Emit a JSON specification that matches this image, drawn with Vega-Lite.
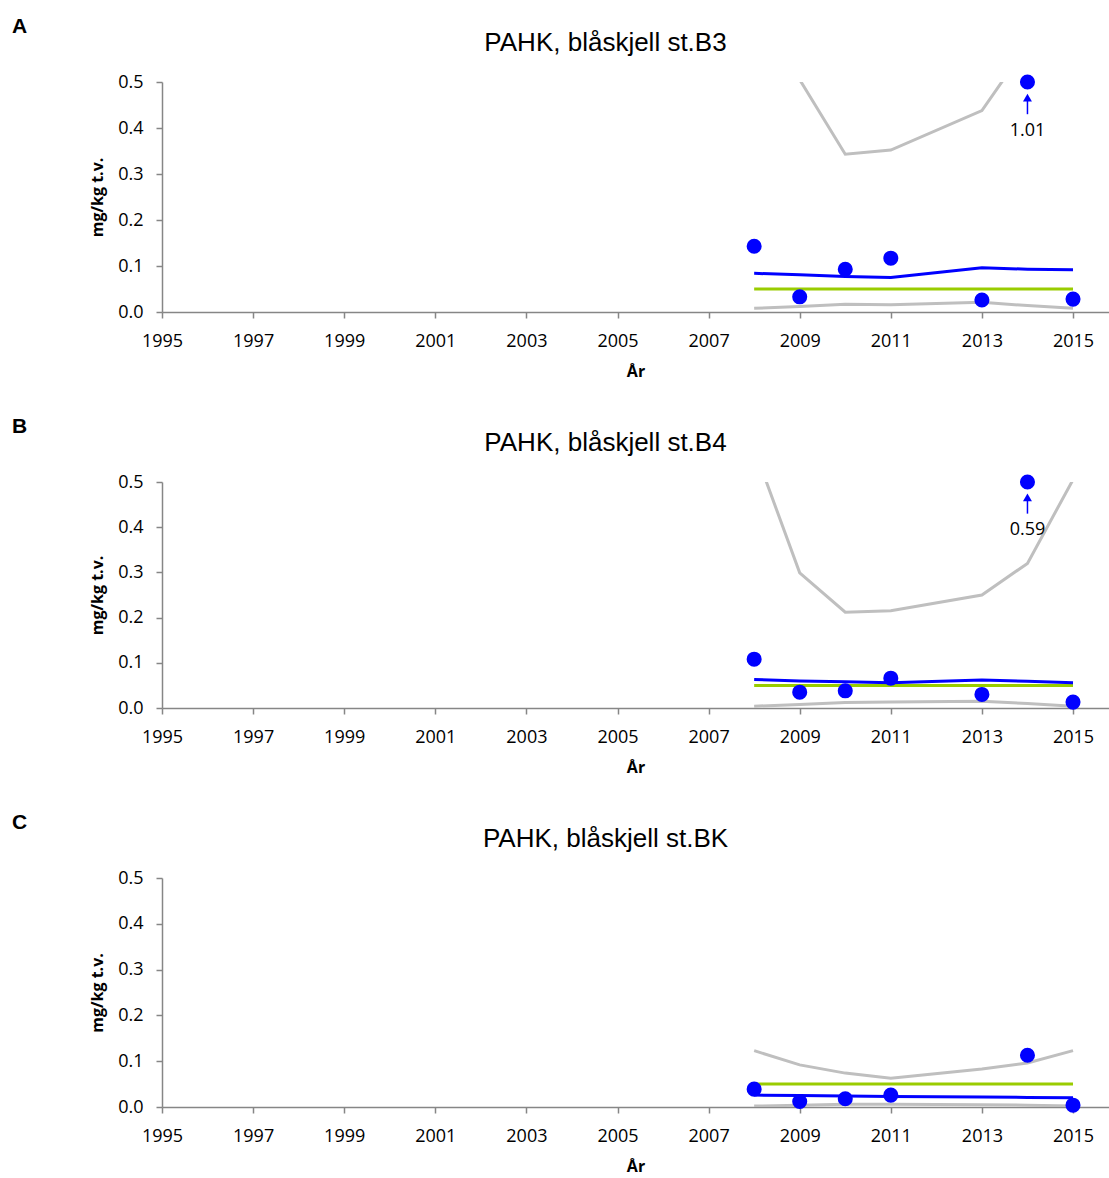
{
  "$schema": "https://vega.github.io/schema/vega-lite/v6.json",
  "padding": {"left": 12, "top": 16, "right": 0, "bottom": 4},
  "background": "white",
  "config": {
    "view": {"stroke": null},
    "title": {"font": "Liberation Sans", "fontSize": 26, "fontWeight": "normal", "color": "#000000"},
    "axis": {
      "domainColor": "#868686", "tickColor": "#868686", "domainWidth": 1.5, "tickWidth": 1.5, "tickSize": 6,
      "labelFont": "Open Sans", "labelFontSize": 18, "labelColor": "#000000", "labelFlush": false,
      "titleFont": "Open Sans", "titleFontSize": 16, "titleFontWeight": "bold", "titleColor": "#000000",
      "grid": false
    }
  },
  "datasets": {
    "A": [
      {"year": 2008, "conc": 0.143, "trend": 0.084, "upper": 1.2, "lower": 0.008, "klasse": 0.05, "label": null},
      {"year": 2009, "conc": 0.033, "trend": 0.081, "upper": 0.505, "lower": 0.012, "klasse": 0.05, "label": null},
      {"year": 2010, "conc": 0.093, "trend": 0.077, "upper": 0.343, "lower": 0.017, "klasse": 0.05, "label": null},
      {"year": 2011, "conc": 0.117, "trend": 0.075, "upper": 0.352, "lower": 0.016, "klasse": 0.05, "label": null},
      {"year": 2013, "conc": 0.026, "trend": 0.096, "upper": 0.438, "lower": 0.021, "klasse": 0.05, "label": null},
      {"year": 2014, "conc": 1.01, "trend": 0.093, "upper": 0.58, "lower": 0.014, "klasse": 0.05, "label": "1.01"},
      {"year": 2015, "conc": 0.028, "trend": 0.092, "upper": 1.0, "lower": 0.008, "klasse": 0.05, "label": null}
    ],
    "B": [
      {"year": 2008, "conc": 0.108, "trend": 0.063, "upper": 0.574, "lower": 0.004, "klasse": 0.05, "label": null},
      {"year": 2009, "conc": 0.035, "trend": 0.06, "upper": 0.299, "lower": 0.008, "klasse": 0.05, "label": null},
      {"year": 2010, "conc": 0.038, "trend": 0.058, "upper": 0.212, "lower": 0.012, "klasse": 0.05, "label": null},
      {"year": 2011, "conc": 0.066, "trend": 0.056, "upper": 0.215, "lower": 0.013, "klasse": 0.05, "label": null},
      {"year": 2013, "conc": 0.03, "trend": 0.062, "upper": 0.25, "lower": 0.015, "klasse": 0.05, "label": null},
      {"year": 2014, "conc": 0.59, "trend": 0.059, "upper": 0.32, "lower": 0.01, "klasse": 0.05, "label": "0.59"},
      {"year": 2015, "conc": 0.013, "trend": 0.056, "upper": 0.505, "lower": 0.004, "klasse": 0.05, "label": null}
    ],
    "C": [
      {"year": 2008, "conc": 0.039, "trend": 0.026, "upper": 0.123, "lower": 0.002, "klasse": 0.05, "label": null},
      {"year": 2009, "conc": 0.012, "trend": 0.025, "upper": 0.092, "lower": 0.004, "klasse": 0.05, "label": null},
      {"year": 2010, "conc": 0.018, "trend": 0.024, "upper": 0.074, "lower": 0.006, "klasse": 0.05, "label": null},
      {"year": 2011, "conc": 0.026, "trend": 0.023, "upper": 0.063, "lower": 0.006, "klasse": 0.05, "label": null},
      {"year": 2013, "conc": null, "trend": 0.022, "upper": 0.083, "lower": 0.005, "klasse": 0.05, "label": null},
      {"year": 2014, "conc": 0.113, "trend": 0.021, "upper": 0.096, "lower": 0.004, "klasse": 0.05, "label": null},
      {"year": 2015, "conc": 0.004, "trend": 0.02, "upper": 0.123, "lower": 0.002, "klasse": 0.05, "label": null}
    ]
  },
  "vconcat": [
    {
      "title": {"text": "A", "anchor": "start", "frame": "group", "dx": -150, "dy": 11, "fontSize": 21, "fontWeight": "bold"},
      "vconcat": [
        {
          "data": {"name": "A"},
          "width": 947, "height": 230,
          "title": {"text": "PAHK, blåskjell st.B3", "dx": -30, "offset": 17},
          "layer": [
            {"mark": {"type": "line", "color": "#BFBFBF", "strokeWidth": 3, "clip": true},
             "encoding": {
               "x": {"field": "year", "type": "quantitative", "scale": {"domain": [1995, 2015.79], "nice": false, "zero": false},
                     "axis": {"values": [1995, 1997, 1999, 2001, 2003, 2005, 2007, 2009, 2011, 2013, 2015], "format": "d", "title": "År", "labelPadding": 14, "titlePadding": 13}},
               "y": {"field": "upper", "type": "quantitative", "scale": {"domain": [0, 0.5], "nice": false},
                     "axis": {"values": [0, 0.1, 0.2, 0.3, 0.4, 0.5], "format": ".1f", "title": "mg/kg t.v.", "labelPadding": 13, "titlePadding": 12}}}},
            {"mark": {"type": "line", "color": "#BFBFBF", "strokeWidth": 3, "clip": true},
             "encoding": {"x": {"field": "year", "type": "quantitative"}, "y": {"field": "lower", "type": "quantitative", "scale": {"domain": [0, 0.5], "nice": false}, "axis": null}}},
            {"mark": {"type": "line", "color": "#99CC00", "strokeWidth": 3, "clip": true},
             "encoding": {"x": {"field": "year", "type": "quantitative"}, "y": {"field": "klasse", "type": "quantitative", "scale": {"domain": [0, 0.5], "nice": false}, "axis": null}}},
            {"mark": {"type": "line", "color": "#0000FF", "strokeWidth": 3, "clip": true},
             "encoding": {"x": {"field": "year", "type": "quantitative"}, "y": {"field": "trend", "type": "quantitative", "scale": {"domain": [0, 0.5], "nice": false}, "axis": null}}},
            {"mark": {"type": "circle", "color": "#0000FF", "size": 227, "opacity": 1},
             "encoding": {"x": {"field": "year", "type": "quantitative"}, "y": {"field": "conc", "type": "quantitative", "scale": {"domain": [0, 0.5], "nice": false, "clamp": true}, "axis": null}}},
            {"transform": [{"filter": "datum.label != null"}],
             "mark": {"type": "rule", "color": "#0000FF", "strokeWidth": 1.5},
             "encoding": {"x": {"field": "year", "type": "quantitative"}, "y": {"datum": 0.43, "type": "quantitative", "scale": {"domain": [0, 0.5], "nice": false}, "axis": null}, "y2": {"datum": 0.465}}},
            {"transform": [{"filter": "datum.label != null"}],
             "mark": {"type": "point", "shape": "triangle-up", "filled": true, "color": "#0000FF", "size": 80, "opacity": 1},
             "encoding": {"x": {"field": "year", "type": "quantitative"}, "y": {"datum": 0.466, "type": "quantitative", "scale": {"domain": [0, 0.5], "nice": false}, "axis": null}}},
            {"transform": [{"filter": "datum.label != null"}],
             "mark": {"type": "text", "font": "Open Sans", "fontSize": 18, "color": "#000000", "baseline": "middle"},
             "encoding": {"x": {"field": "year", "type": "quantitative"}, "y": {"datum": 0.393, "type": "quantitative", "scale": {"domain": [0, 0.5], "nice": false}, "axis": null}, "text": {"field": "label"}}}
          ],
          "resolve": {"scale": {"y": "independent"}}
        }
      ]
    },
    {
      "title": {"text": "B", "anchor": "start", "frame": "group", "dx": -150, "dy": 11, "fontSize": 21, "fontWeight": "bold"},
      "vconcat": [
        {
          "data": {"name": "B"},
          "width": 947, "height": 226,
          "title": {"text": "PAHK, blåskjell st.B4", "dx": -30, "offset": 17},
          "layer": [
            {"mark": {"type": "line", "color": "#BFBFBF", "strokeWidth": 3, "clip": true},
             "encoding": {
               "x": {"field": "year", "type": "quantitative", "scale": {"domain": [1995, 2015.79], "nice": false, "zero": false},
                     "axis": {"values": [1995, 1997, 1999, 2001, 2003, 2005, 2007, 2009, 2011, 2013, 2015], "format": "d", "title": "År", "labelPadding": 14, "titlePadding": 13}},
               "y": {"field": "upper", "type": "quantitative", "scale": {"domain": [0, 0.5], "nice": false},
                     "axis": {"values": [0, 0.1, 0.2, 0.3, 0.4, 0.5], "format": ".1f", "title": "mg/kg t.v.", "labelPadding": 13, "titlePadding": 12}}}},
            {"mark": {"type": "line", "color": "#BFBFBF", "strokeWidth": 3, "clip": true},
             "encoding": {"x": {"field": "year", "type": "quantitative"}, "y": {"field": "lower", "type": "quantitative", "scale": {"domain": [0, 0.5], "nice": false}, "axis": null}}},
            {"mark": {"type": "line", "color": "#99CC00", "strokeWidth": 3, "clip": true},
             "encoding": {"x": {"field": "year", "type": "quantitative"}, "y": {"field": "klasse", "type": "quantitative", "scale": {"domain": [0, 0.5], "nice": false}, "axis": null}}},
            {"mark": {"type": "line", "color": "#0000FF", "strokeWidth": 3, "clip": true},
             "encoding": {"x": {"field": "year", "type": "quantitative"}, "y": {"field": "trend", "type": "quantitative", "scale": {"domain": [0, 0.5], "nice": false}, "axis": null}}},
            {"mark": {"type": "circle", "color": "#0000FF", "size": 227, "opacity": 1},
             "encoding": {"x": {"field": "year", "type": "quantitative"}, "y": {"field": "conc", "type": "quantitative", "scale": {"domain": [0, 0.5], "nice": false, "clamp": true}, "axis": null}}},
            {"transform": [{"filter": "datum.label != null"}],
             "mark": {"type": "rule", "color": "#0000FF", "strokeWidth": 1.5},
             "encoding": {"x": {"field": "year", "type": "quantitative"}, "y": {"datum": 0.43, "type": "quantitative", "scale": {"domain": [0, 0.5], "nice": false}, "axis": null}, "y2": {"datum": 0.465}}},
            {"transform": [{"filter": "datum.label != null"}],
             "mark": {"type": "point", "shape": "triangle-up", "filled": true, "color": "#0000FF", "size": 80, "opacity": 1},
             "encoding": {"x": {"field": "year", "type": "quantitative"}, "y": {"datum": 0.466, "type": "quantitative", "scale": {"domain": [0, 0.5], "nice": false}, "axis": null}}},
            {"transform": [{"filter": "datum.label != null"}],
             "mark": {"type": "text", "font": "Open Sans", "fontSize": 18, "color": "#000000", "baseline": "middle"},
             "encoding": {"x": {"field": "year", "type": "quantitative"}, "y": {"datum": 0.393, "type": "quantitative", "scale": {"domain": [0, 0.5], "nice": false}, "axis": null}, "text": {"field": "label"}}}
          ],
          "resolve": {"scale": {"y": "independent"}}
        }
      ]
    },
    {
      "title": {"text": "C", "anchor": "start", "frame": "group", "dx": -150, "dy": 11, "fontSize": 21, "fontWeight": "bold"},
      "vconcat": [
        {
          "data": {"name": "C"},
          "width": 947, "height": 229,
          "title": {"text": "PAHK, blåskjell st.BK", "dx": -30, "offset": 17},
          "layer": [
            {"mark": {"type": "line", "color": "#BFBFBF", "strokeWidth": 3, "clip": true},
             "encoding": {
               "x": {"field": "year", "type": "quantitative", "scale": {"domain": [1995, 2015.79], "nice": false, "zero": false},
                     "axis": {"values": [1995, 1997, 1999, 2001, 2003, 2005, 2007, 2009, 2011, 2013, 2015], "format": "d", "title": "År", "labelPadding": 14, "titlePadding": 13}},
               "y": {"field": "upper", "type": "quantitative", "scale": {"domain": [0, 0.5], "nice": false},
                     "axis": {"values": [0, 0.1, 0.2, 0.3, 0.4, 0.5], "format": ".1f", "title": "mg/kg t.v.", "labelPadding": 13, "titlePadding": 12}}}},
            {"mark": {"type": "line", "color": "#BFBFBF", "strokeWidth": 3, "clip": true},
             "encoding": {"x": {"field": "year", "type": "quantitative"}, "y": {"field": "lower", "type": "quantitative", "scale": {"domain": [0, 0.5], "nice": false}, "axis": null}}},
            {"mark": {"type": "line", "color": "#99CC00", "strokeWidth": 3, "clip": true},
             "encoding": {"x": {"field": "year", "type": "quantitative"}, "y": {"field": "klasse", "type": "quantitative", "scale": {"domain": [0, 0.5], "nice": false}, "axis": null}}},
            {"mark": {"type": "line", "color": "#0000FF", "strokeWidth": 3, "clip": true},
             "encoding": {"x": {"field": "year", "type": "quantitative"}, "y": {"field": "trend", "type": "quantitative", "scale": {"domain": [0, 0.5], "nice": false}, "axis": null}}},
            {"mark": {"type": "circle", "color": "#0000FF", "size": 227, "opacity": 1},
             "encoding": {"x": {"field": "year", "type": "quantitative"}, "y": {"field": "conc", "type": "quantitative", "scale": {"domain": [0, 0.5], "nice": false, "clamp": true}, "axis": null}}}
          ],
          "resolve": {"scale": {"y": "independent"}}
        }
      ]
    }
  ],
  "spacing": 37
}
